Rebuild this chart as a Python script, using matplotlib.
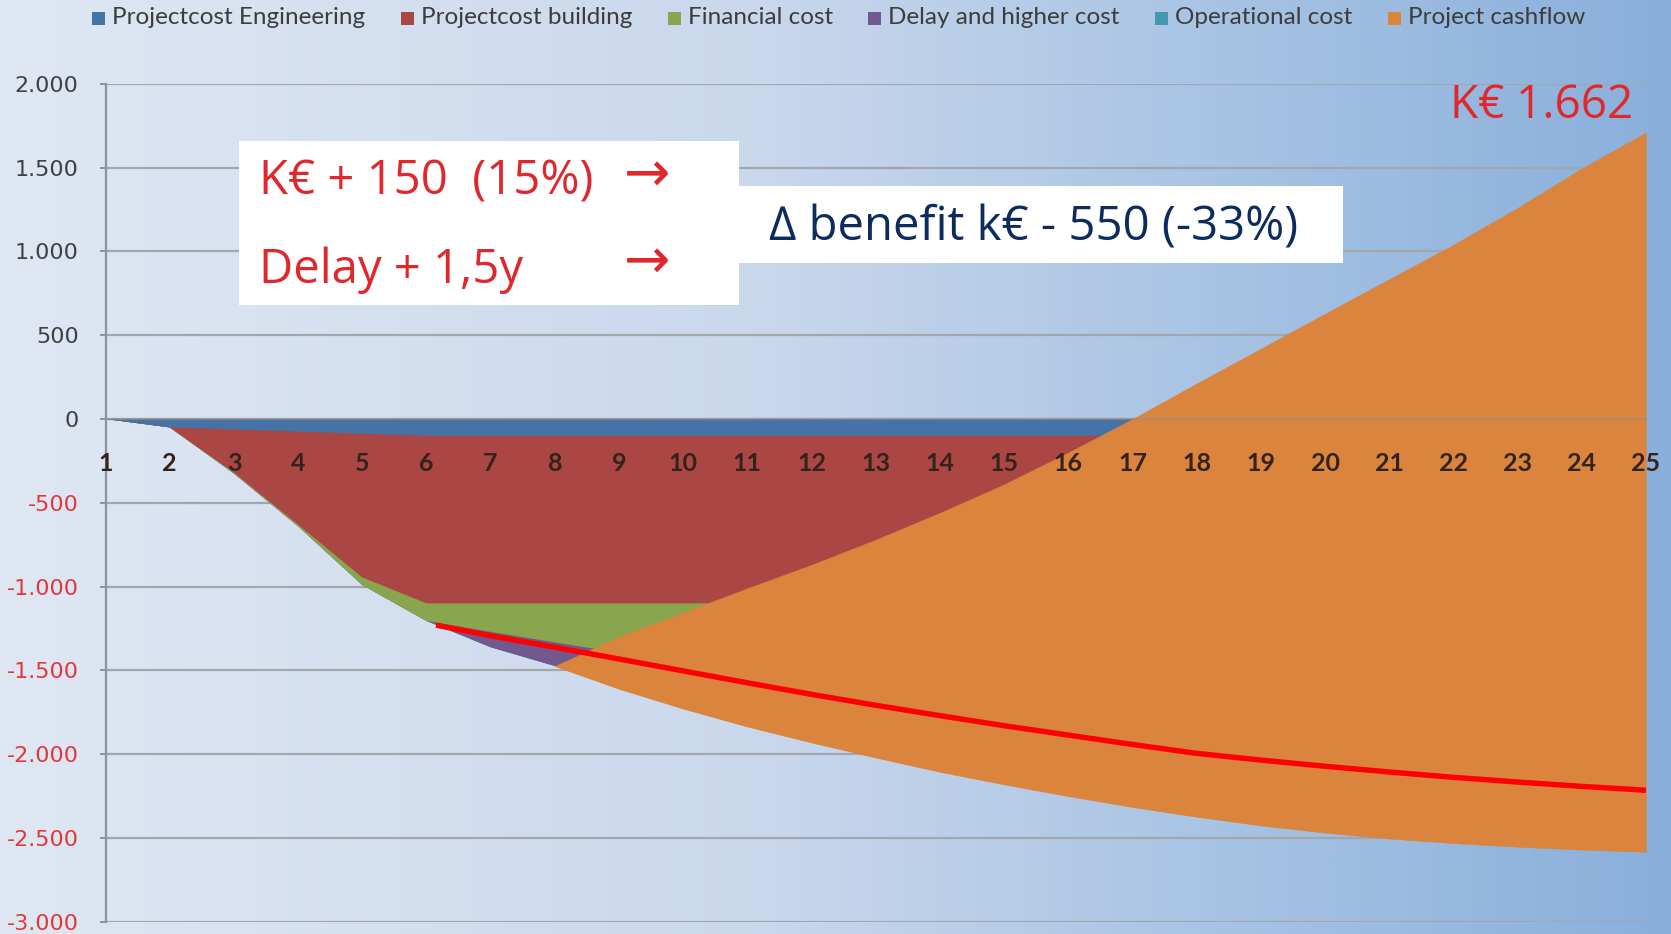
import numpy as np
import matplotlib
matplotlib.use("Agg")
import matplotlib.pyplot as plt
from matplotlib.patches import Rectangle
from matplotlib.colors import LinearSegmentedColormap

# ---------------- data ----------------
years = list(range(1, 26))
# lower edges of the stacked (cumulative, k€) areas
engineering_low = [0, -50, -62, -75, -88, -100, -100, -100, -100, -100, -100, -100, -100,
                   -100, -100, -100, -100, -100, -100, -100, -100, -100, -100, -100, -100]
building_low = [0, -50, -320, -630, -945, -1100, -1100, -1100, -1100, -1100, -1100, -1100, -1100,
                -1100, -1100, -1100, -1100, -1100, -1100, -1100, -1100, -1100, -1100, -1100, -1100]
financial_low = [0, -50, -325, -640, -990, -1205, -1270, -1333, -1395, -1455, -1510, -1560, -1605,
                 -1645, -1680, -1710, -1735, -1755, -1770, -1780, -1790, -1795, -1800, -1805, -1810]
delay_low = [0, -50, -325, -640, -990, -1205, -1362, -1474, -1560, -1640, -1720, -1800, -1870,
             -1930, -1980, -2020, -2055, -2085, -2110, -2130, -2145, -2155, -2165, -2172, -2178]
operational_low = [0, -50, -325, -640, -990, -1205, -1362, -1474, -1610, -1728, -1835, -1930, -2020,
                   -2105, -2180, -2250, -2315, -2373, -2425, -2468, -2503, -2530, -2552, -2569, -2582]
cashflow_years = list(range(8, 26))
cashflow_top = [-1474, -1300, -1155, -1010, -870, -720, -560, -390, -200, 0,
                212, 420, 628, 835, 1040, 1260, 1495, 1710]

# red trend line
trend_x = [6.15, 7, 8, 9, 10, 11, 12, 13, 14, 15, 16, 17, 18, 19, 20, 21, 22, 23, 24, 25]
trend_y = [-1230, -1293, -1362, -1432, -1503, -1574, -1643, -1708, -1770, -1830, -1886,
           -1942, -1995, -2035, -2072, -2106, -2138, -2166, -2192, -2215]

series_names = ["Projectcost Engineering", "Projectcost building", "Financial cost",
                "Delay and higher cost", "Operational cost", "Project cashflow"]
series_colors = ["#4572A7", "#AA4643", "#89A54E", "#71588F", "#4198AF", "#DB843D"]

y_ticks = list(range(-3000, 2001, 500))

note_line1 = "K€ + 150  (15%)"
note_line2 = "Delay + 1,5y"
note_delta = "∆ benefit k€ - 550 (-33%)"
note_final = "K€ 1.662"

# ---------------- figure ----------------
W, H = 1671, 934
fig = plt.figure(figsize=(W / 100, H / 100), dpi=100)

bg = fig.add_axes([0, 0, 1, 1], zorder=-10)
cmap = LinearSegmentedColormap.from_list(
    "bg", [(0, "#dfe7f3"), (0.45, "#cad8ec"), (0.72, "#a9c4e4"), (1, "#89afdb")])
bg.imshow(np.linspace(0, 1, 600).reshape(1, -1), aspect="auto", cmap=cmap,
          extent=[0, 1, 0, 1])
bg.set_axis_off()

x_left, x_right = 105.5, 1646
y_top, y_bot = 83.8, 921.8
ax = fig.add_axes([x_left / W, 1 - y_bot / H, (x_right - x_left) / W, (y_bot - y_top) / H])
ax.patch.set_visible(False)
ax.set_xlim(1, 25)
ax.set_ylim(-3000, 2000)

# gridlines (under the areas)
ax.hlines(y_ticks, 1, 25, colors="#a2a7ae", lw=1.6, zorder=0.5)

# stacked areas: paint deepest first, each from 0 down to its lower edge (no seams)
lows = [engineering_low, building_low, financial_low, delay_low, operational_low]
for i in range(4, -1, -1):
    ax.fill_between(years, 0, lows[i], facecolor=series_colors[i],
                    edgecolor="none", lw=0, zorder=1)
ax.fill_between(cashflow_years, operational_low[7:], cashflow_top,
                facecolor=series_colors[5], edgecolor=series_colors[5], lw=0.4, zorder=1.2)

ax.plot(trend_x, trend_y, color="#ff0000", lw=3.9, solid_capstyle="butt",
        solid_joinstyle="round", zorder=5)

# axes styling
for s in ["top", "right"]:
    ax.spines[s].set_visible(False)
ax.spines["left"].set_color("#8d9299")
ax.spines["left"].set_linewidth(1.6)
ax.spines["bottom"].set_position(("data", 0))
ax.spines["bottom"].set_color("#9a8f86")
ax.spines["bottom"].set_alpha(0.6)
ax.spines["bottom"].set_linewidth(1.6)
ax.set_axisbelow(False)

ax.set_yticks(y_ticks)
ax.set_yticklabels([f"{v:,}".replace(",", ".") for v in y_ticks],
                   fontfamily="DejaVu Sans", fontsize=16)
for lab, v in zip(ax.get_yticklabels(), y_ticks):
    lab.set_color("#404040" if v >= 0 else "#e0393b")
ax.tick_params(axis="y", direction="out", length=4.3, width=1.4, color="#8d9299", pad=15)

ax.set_xticks(years)
ax.set_xticklabels([str(y) for y in years], fontfamily="Lato", fontsize=18,
                   fontweight="bold", color="#33231a")
ax.tick_params(axis="x", length=0, pad=24)

# ---------------- annotations ----------------
def box(x0, y0, x1, y1):
    fig.add_artist(Rectangle((x0 / W, 1 - y1 / H), (x1 - x0) / W, (y1 - y0) / H,
                             transform=fig.transFigure, facecolor="white",
                             edgecolor="none", zorder=6))

box(238.7, 140.7, 738.5, 304.8)
box(738.5, 186.5, 1342.8, 263.2)

red_txt = "#e0282c"
fam = ["Open Sans", "DejaVu Sans"]
fig.text(259 / W, 1 - 195 / H, note_line1, fontsize=34, color=red_txt, family=fam,
         va="baseline", ha="left", zorder=7)
fig.text(259 / W, 1 - 283.5 / H, note_line2, fontsize=34, color=red_txt, family=fam,
         va="baseline", ha="left", zorder=7)
fig.text(624 / W, 1 - 191 / H, "→", fontsize=40, color=red_txt, family=["DejaVu Sans"],
         va="baseline", ha="left", zorder=7)
fig.text(624 / W, 1 - 278 / H, "→", fontsize=40, color=red_txt, family=["DejaVu Sans"],
         va="baseline", ha="left", zorder=7)
fig.text(769 / W, 1 - 241 / H, note_delta, fontsize=34, color="#0d2b5e", family=fam,
         va="baseline", ha="left", zorder=7)
fig.text(1633 / W, 1 - 118 / H, note_final, fontsize=33, color=red_txt, family=fam,
         va="baseline", ha="right", zorder=7)

# ---------------- legend ----------------
marker_x = [91.6, 400.7, 668.2, 867.5, 1155.3, 1387.5]
for mx, name, c in zip(marker_x, series_names, series_colors):
    fig.add_artist(Rectangle((mx / W, 1 - 24.5 / H), 13 / W, 13 / H,
                             transform=fig.transFigure, facecolor=c, edgecolor="none"))
    fig.text((mx + 20) / W, 1 - 18 / H, name, fontsize=17.5, family=["Lato", "DejaVu Sans"],
             color="#3c3c3c", va="center", ha="left")

fig.savefig("out.png", dpi=100)
